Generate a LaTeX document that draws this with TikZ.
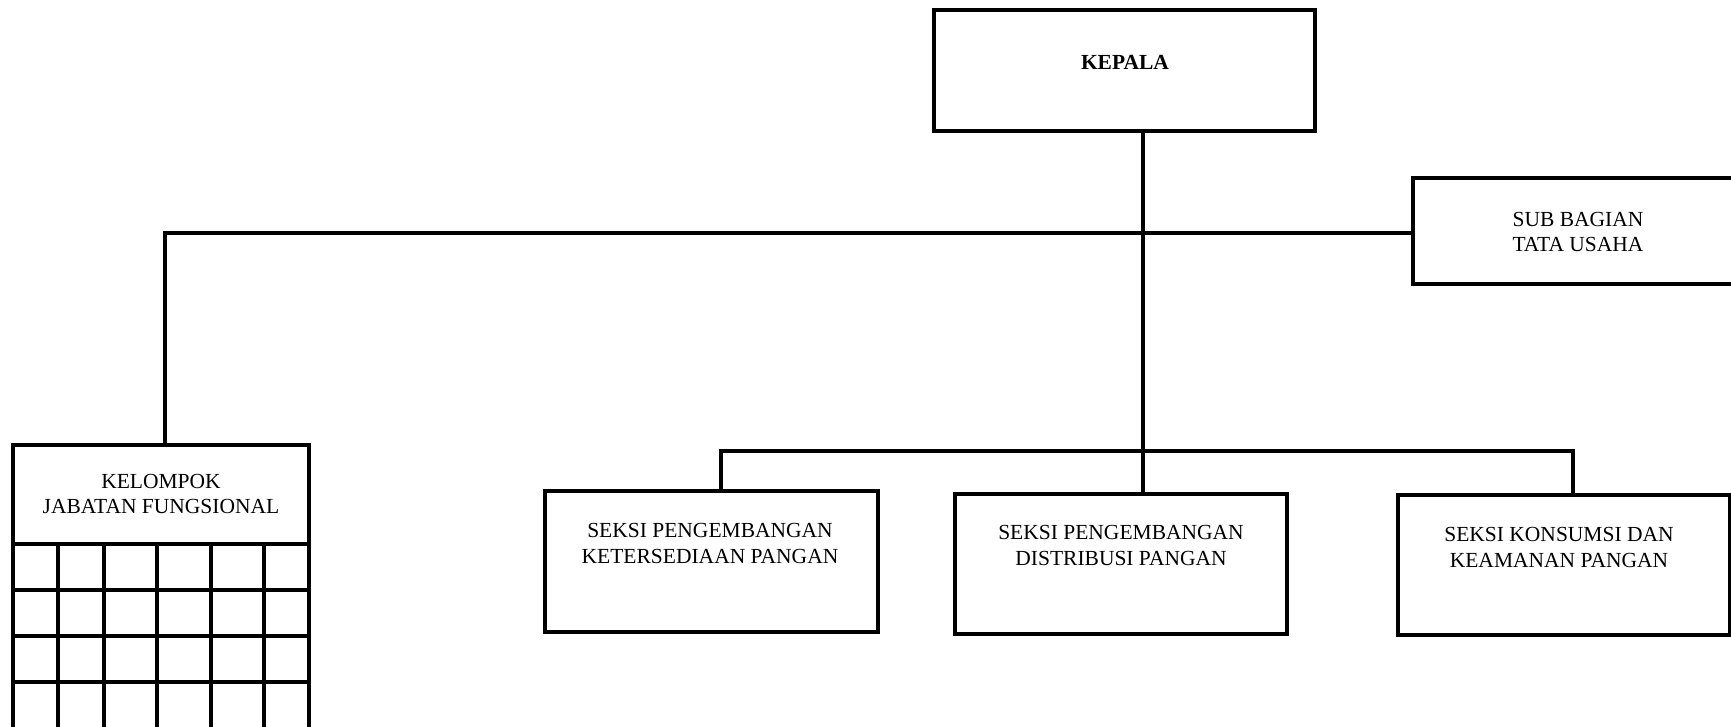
\documentclass[tikz,border=0pt]{standalone}
\usepackage{fontspec}
\setmainfont{Liberation Serif}
\begin{document}
\begin{tikzpicture}[x=1pt,y=-1pt,
  box/.style={draw,line width=3.6pt,inner sep=0pt},
  conn/.style={line width=3.5pt},
  gridline/.style={line width=3.6pt},
  lbl/.style={align=center,font=\fontsize{21.5}{25.5}\selectfont,inner sep=0pt}]
\useasboundingbox (0,0) rectangle (1731,726);
\clip (0,0) rectangle (1731,726);
% boxes
\node[box,minimum width=381pt,minimum height=121pt] (kepala) at (1124.5,70.5) {};
\node[box,minimum width=332pt,minimum height=106pt] (sub) at (1579,231) {};
\node[box,minimum width=296pt,minimum height=99pt] (kelompok) at (161,494.5) {};
\node[box,minimum width=333pt,minimum height=141pt] (seksi1) at (711.5,561.5) {};
\node[box,minimum width=332pt,minimum height=140pt] (seksi2) at (1121,564) {};
\node[box,minimum width=332pt,minimum height=140pt] (seksi3) at (1564,565) {};
% grid under KELOMPOK
\foreach \x in {13,58,104,157,211,264,309} \draw[gridline] (\x,544) -- (\x,740);
\foreach \y in {590,636,682} \draw[gridline] (13,\y) -- (309,\y);
% labels
\node[lbl,font=\fontsize{21.5}{25.5}\selectfont\bfseries] (tkepala) at (1125,62) {KEPALA};
\node[lbl] (tsub) at (1578,232) {SUB BAGIAN\\TATA USAHA};
\node[lbl] (tkel) at (161,494) {KELOMPOK\\JABATAN FUNGSIONAL};
\node[lbl] (ts1) at (710,543.5) {SEKSI PENGEMBANGAN\\KETERSEDIAAN PANGAN};
\node[lbl] (ts2) at (1121,545.5) {SEKSI PENGEMBANGAN\\DISTRIBUSI PANGAN};
\node[lbl] (ts3) at (1559,547.5) {SEKSI KONSUMSI DAN\\KEAMANAN PANGAN};
% connectors
\coordinate (trunk) at (1143,131);
\coordinate (lc) at (165,233);
\coordinate (busL) at (721,451);
\coordinate (busR) at (1573,451);
\draw[conn] (kepala.south -| trunk) -- (seksi2.north -| trunk);
\draw[conn] (lc -| sub.west) -- (lc) -- (kelompok.north -| lc);
\draw[conn] (seksi1.north -| busL) -- (busL) -- (busR) -- (seksi3.north -| busR);
\end{tikzpicture}
\end{document}
